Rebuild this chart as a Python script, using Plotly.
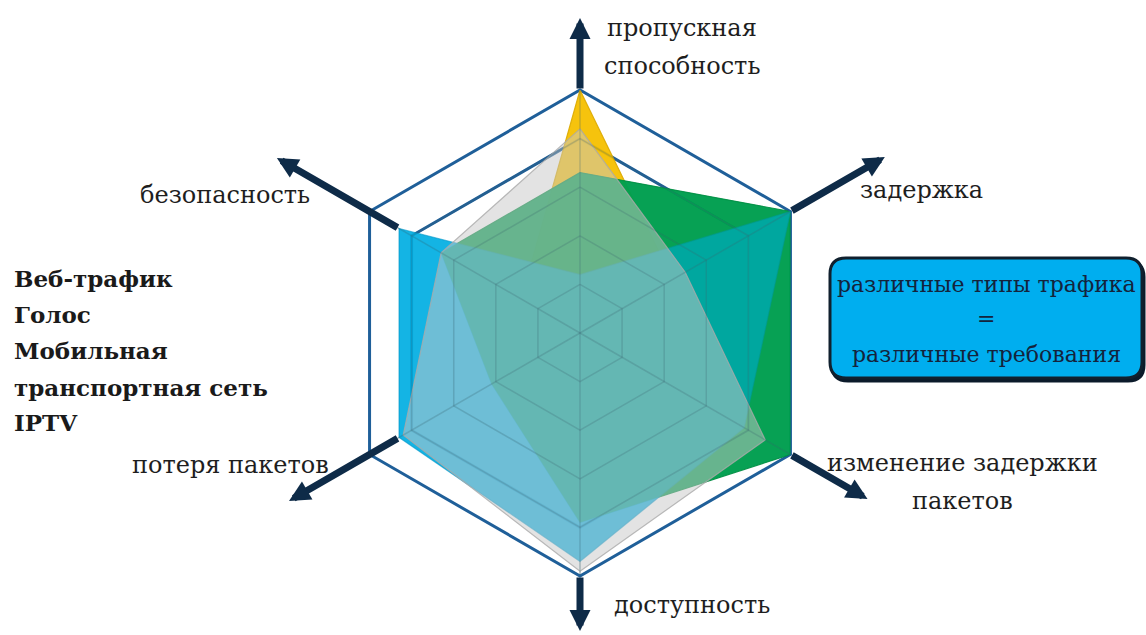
import plotly.graph_objects as go
import math

# ---------------- data ----------------
categories = ["пропускная<br>способность", "задержка", "изменение задержки<br>пакетов",
              "доступность", "потеря пакетов", "безопасность"]
series_names = ["Веб-трафик", "Голос", "Мобильная<br>транспортная сеть", "IPTV"]
web_traffic = [4.2, 2.5, 4.4, 4.9, 4.2, 3.3]
voice = [3.3, 5.0, 5.0, 3.9, 2.1, 3.3]
mobile_backhaul = [1.2, 5.0, 3.9, 4.7, 4.3, 4.3]
iptv = [5.0, 2.2, 1.5, 3.5, 1.5, 1.4]
callout_lines = ["различные типы трафика", "=", "различные требования"]
r_max = 5
ring_values = [1, 2, 3, 4, 5]

# ---------------- geometry / style ----------------
W, H = 1146, 635
cx, cy, R = 580, 333, 243          # pixel centre and outer radius of the chart
SERIF = "DejaVu Serif"


def px(x):
    return x / W


def py(y):
    return 1 - y / H


fig = go.Figure()
closed_theta = categories + [categories[0]]


def closed(v):
    return list(v) + [v[0]]


# inner blue ring (level 4) drawn under the fills
fig.add_trace(go.Scatterpolar(
    r=[ring_values[3]] * (len(categories) + 1), theta=closed_theta, mode="lines",
    line=dict(color="#1f5f99", width=3), hoverinfo="skip", showlegend=False))

layers = [
    (series_names[3], iptv, "rgba(245,192,0,0.95)", "rgba(220,170,0,0.9)"),
    (series_names[1], voice, "rgba(0,158,78,0.95)", "rgba(0,140,65,0.9)"),
    (series_names[2], mobile_backhaul, "rgba(0,174,226,0.92)", "rgba(0,150,200,0.6)"),
    (series_names[1], voice, "rgba(0,160,80,0.42)", "rgba(0,140,65,0.0)"),
    (series_names[0], web_traffic, "rgba(200,200,200,0.5)", "rgba(170,170,170,0.8)"),
]
for name, vals, fc, lc in layers:
    fig.add_trace(go.Scatterpolar(
        r=closed(vals), theta=closed_theta, mode="lines", fill="toself",
        fillcolor=fc, line=dict(color=lc, width=1.2), name=name.replace("<br>", " "),
        showlegend=False))

# faint grid seen through the translucent fills
grid_r, grid_t = [], []
for rv in ring_values[:-1]:
    grid_r += [rv] * (len(categories) + 1) + [None]
    grid_t += closed_theta + [None]
for c in categories:
    grid_r += [0, r_max, None]
    grid_t += [c, c, None]
fig.add_trace(go.Scatterpolar(
    r=grid_r, theta=grid_t, mode="lines", line=dict(color="rgba(60,100,110,0.25)", width=1.5),
    hoverinfo="skip", showlegend=False, connectgaps=False))

fig.update_layout(
    width=W, height=H, margin=dict(l=0, r=0, t=0, b=0),
    paper_bgcolor="white", plot_bgcolor="white", showlegend=False,
    polar=dict(
        domain=dict(x=[px(cx - R), px(cx + R)], y=[py(cy + R), py(cy - R)]),
        gridshape="linear", bgcolor="white",
        radialaxis=dict(range=[0, r_max], tickvals=ring_values[:-1], showticklabels=False,
                        ticks="", showline=False, gridcolor="rgba(95,125,125,0.55)",
                        gridwidth=1.5, layer="below traces"),
        angularaxis=dict(direction="clockwise", rotation=90, showticklabels=False, ticks="",
                         showline=True, linecolor="#1f5f99", linewidth=3,
                         gridcolor="rgba(95,125,125,0.45)", gridwidth=1.2,
                         layer="below traces"),
    ),
)

annotations = []
shapes = []
tail_r = [R, R, R, R, 0.86 * R, 0.86 * R]
tip_r = [315, 352, 332, 298, 336, 350]
for i in range(len(categories)):
    a = math.radians(90 - 60 * i)
    tx, ty = cx + tip_r[i] * math.cos(a), cy - tip_r[i] * math.sin(a)
    sx, sy = cx + tail_r[i] * math.cos(a), cy - tail_r[i] * math.sin(a)
    annotations.append(dict(
        x=px(tx), y=py(ty), xref="paper", yref="paper", text="", showarrow=True,
        ax=sx - tx, ay=sy - ty, arrowhead=2, arrowsize=0.6, arrowwidth=7,
        arrowcolor="#0e2b48"))

label_pos = [(682, [28, 66]), (921, [190]), (962, [463, 501]), (692, [605]),
             (230, [465]), (225, [195])]
for cat, (lx, ys) in zip(categories, label_pos):
    for line, yy in zip(cat.split("<br>"), ys):
        annotations.append(dict(
            x=px(lx), y=py(yy), xref="paper", yref="paper", text=line, showarrow=False,
            xanchor="center", yanchor="middle",
            font=dict(family=SERIF, size=24, color="#1e1e1e")))

# series list on the left (one text line per row)
legend_rows = "<br>".join(series_names).split("<br>")
for line, yy in zip(legend_rows, [278, 314, 350, 387, 422]):
    annotations.append(dict(
        x=px(12), y=py(yy), xref="paper", yref="paper", xanchor="left", yanchor="middle",
        align="left", showarrow=False, text="<b>" + line + "</b>",
        font=dict(family=SERIF, size=23, color="#1a1a1a")))

bx0, by0, bx1, by1, rc = 830, 258, 1142, 378, 16


def rrect(x0, y0, x1, y1, r):
    return (f"M {px(x0 + r)},{py(y0)} L {px(x1 - r)},{py(y0)} Q {px(x1)},{py(y0)} {px(x1)},{py(y0 + r)} "
            f"L {px(x1)},{py(y1 - r)} Q {px(x1)},{py(y1)} {px(x1 - r)},{py(y1)} "
            f"L {px(x0 + r)},{py(y1)} Q {px(x0)},{py(y1)} {px(x0)},{py(y1 - r)} "
            f"L {px(x0)},{py(y0 + r)} Q {px(x0)},{py(y0)} {px(x0 + r)},{py(y0)} Z")


shapes.append(dict(type="path", xref="paper", yref="paper", path=rrect(bx0 + 2, by0 + 3, bx1 + 2, by1 + 3, rc),
                   fillcolor="#0b1a2a", line=dict(color="#0b1a2a", width=3), layer="above"))
shapes.append(dict(type="path", xref="paper", yref="paper", path=rrect(bx0, by0, bx1, by1, rc),
                   fillcolor="#00aeef", line=dict(color="#10202e", width=3), layer="above"))
for line, yy in zip(callout_lines, [284, 319, 354]):
    annotations.append(dict(
        x=px((bx0 + bx1) / 2), y=py(yy), xref="paper", yref="paper", text=line,
        showarrow=False, xanchor="center", yanchor="middle",
        font=dict(family=SERIF, size=22, color="#14233c")))

fig.update_layout(annotations=annotations, shapes=shapes)
fig.write_html("out.html")
